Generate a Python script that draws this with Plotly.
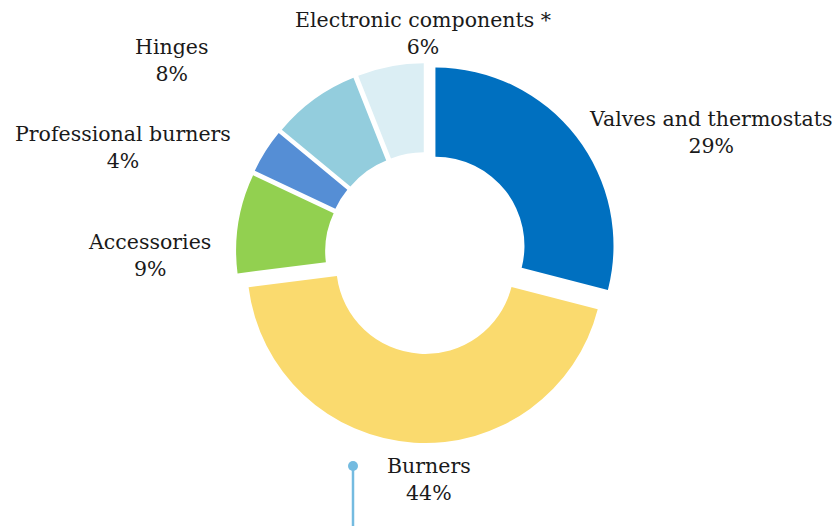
import plotly.graph_objects as go

# Revenue split by product line (shares in %)
categories = [
    "Valves and thermostats",
    "Burners",
    "Accessories",
    "Professional burners",
    "Hinges",
    "Electronic components *",
]
shares = [29, 44, 9, 4, 8, 6]
colors = ["#0070C0", "#FADA6E", "#92D050", "#558ED5", "#93CDDD", "#DBEEF4"]

# label anchor positions (paper coordinates) for each category
label_x = [0.848, 0.512, 0.178, 0.147, 0.205, 0.505]
label_y = [0.749, 0.089, 0.515, 0.720, 0.885, 0.937]

W, H = 838, 526
FONT = "DejaVu Serif"

fig = go.Figure(
    go.Pie(
        labels=categories,
        values=shares,
        sort=False,
        direction="clockwise",
        rotation=0,
        hole=0.5,
        pull=[0.067] * len(shares),
        marker=dict(colors=colors, line=dict(width=0)),
        textinfo="none",
        hoverinfo="label+percent",
        domain=dict(x=[236 / W, 616 / W], y=[83 / H, 463 / H]),
        showlegend=False,
    )
)

for name, val, x, y in zip(categories, shares, label_x, label_y):
    fig.add_annotation(
        x=x,
        y=y,
        xref="paper",
        yref="paper",
        xanchor="center",
        yanchor="middle",
        text=f"{name}<br>{val}%",
        showarrow=False,
        align="center",
        font=dict(family=FONT, size=20.5, color="#1A1A1A"),
    )

# small pointer marker under the Burners label
fig.add_shape(
    type="line", xref="paper", yref="paper",
    x0=353 / W, x1=353 / W, y0=(H - 466) / H, y1=0,
    line=dict(color="#74BBE0", width=2.5),
)
fig.add_shape(
    type="circle", xref="paper", yref="paper",
    x0=348 / W, x1=358 / W, y0=(H - 461) / H, y1=(H - 471) / H,
    fillcolor="#74BBE0", line=dict(width=0),
)

fig.update_layout(
    width=W,
    height=H,
    margin=dict(l=0, r=0, t=0, b=0),
    paper_bgcolor="white",
    plot_bgcolor="white",
)

fig.write_html("out.html")
